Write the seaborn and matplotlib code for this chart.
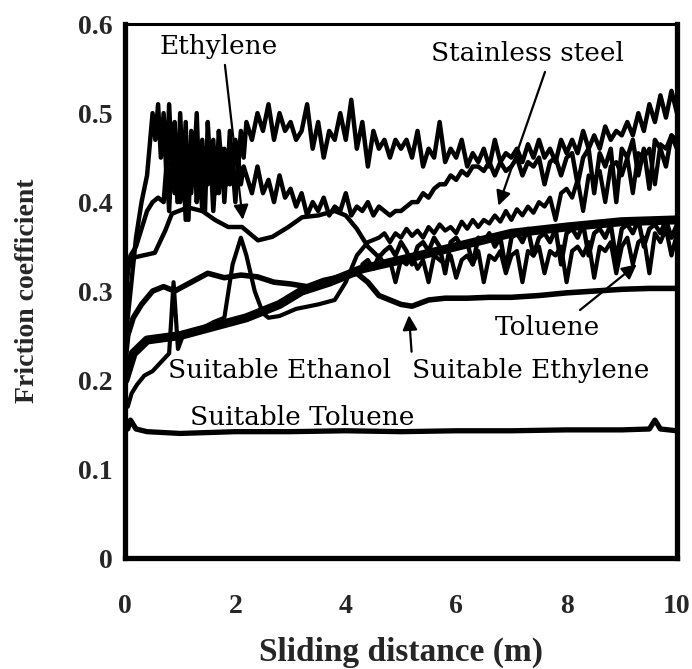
import numpy as np
import pandas as pd
import matplotlib
matplotlib.use("Agg")
import matplotlib.pyplot as plt
import seaborn as sns

sns.set_theme(style="white")
plt.rcParams["font.family"] = ["Liberation Serif", "DejaVu Serif"]

# ---- friction coefficient traces (sliding distance in m) ----
# Ethanol: 0-0.5 m every 0.1 m, 0.55-2.2 m every 0.05 m, 2.3-10 m every 0.1 m
ethanol_y0 = [0.24, 0.30, 0.36, 0.40, 0.43, 0.50]
ethanol_y1 = [
    0.47, 0.51, 0.45, 0.50, 0.43, 0.51, 0.44, 0.49, 0.40, 0.50,
    0.42, 0.49, 0.38, 0.48, 0.44, 0.50, 0.41, 0.47, 0.39, 0.49,
    0.43, 0.47, 0.41, 0.48, 0.44, 0.46, 0.42, 0.48, 0.43, 0.47,
    0.44, 0.48, 0.45, 0.49,
]
ethanol_y2 = [
    0.47, 0.50, 0.48, 0.51, 0.47, 0.50, 0.48, 0.49,
    0.47, 0.48, 0.51, 0.46, 0.49, 0.45, 0.48, 0.47, 0.50, 0.47,
    0.515, 0.46, 0.49, 0.44, 0.48, 0.46, 0.47, 0.45, 0.47, 0.46,
    0.47, 0.45, 0.48, 0.44, 0.46, 0.45, 0.49, 0.445, 0.46, 0.45,
    0.47, 0.44, 0.455, 0.445, 0.46, 0.44, 0.47, 0.445, 0.455, 0.45,
    0.46, 0.445, 0.465, 0.45, 0.47, 0.45, 0.46, 0.445, 0.47, 0.455,
    0.47, 0.455, 0.48, 0.46, 0.475, 0.46, 0.485, 0.47, 0.48, 0.475,
    0.49, 0.475, 0.50, 0.48, 0.51, 0.49, 0.52, 0.495, 0.525, 0.50,
]

# Second noisy trace: 0-0.7 m every 0.1 m, 0.75-2.2 m every 0.05 m, 2.3-10 m every 0.1 m
upper_y0 = [0.30, 0.34, 0.35, 0.37, 0.39, 0.40, 0.405, 0.40]
upper_y1 = [
    0.44, 0.39, 0.46, 0.41, 0.47, 0.40, 0.45, 0.38, 0.46, 0.41,
    0.47, 0.40, 0.44, 0.39, 0.46, 0.42, 0.45, 0.39, 0.44, 0.41,
    0.46, 0.40, 0.45, 0.42, 0.44, 0.40, 0.45, 0.42, 0.44, 0.43,
]
upper_y2 = [
    0.41, 0.44, 0.41, 0.425, 0.40, 0.43, 0.405, 0.415, 0.395, 0.41,
    0.385, 0.40, 0.39, 0.405, 0.385, 0.395, 0.39, 0.41, 0.385, 0.395, 0.39, 0.40, 0.385, 0.395, 0.39, 0.385, 0.39,
    0.39, 0.395, 0.40, 0.40, 0.41, 0.405, 0.415, 0.42, 0.42, 0.43, 0.425, 0.435, 0.43, 0.44, 0.44,
    0.435, 0.445, 0.43, 0.445, 0.435, 0.44, 0.45, 0.43, 0.445, 0.44, 0.45, 0.42, 0.445, 0.45, 0.43, 0.45,
    0.455, 0.42, 0.45, 0.46, 0.41, 0.455, 0.44, 0.46, 0.40, 0.46, 0.45, 0.47, 0.43, 0.46, 0.415, 0.47,
    0.46, 0.44, 0.475, 0.46,
]

# Ethylene: smooth start up to 4.6 m, then every 0.1 m from 4.7 to 10 m
ethylene_x0 = [0.0, 0.05, 0.18, 0.54, 0.73, 0.85, 1.14, 1.40, 1.63, 1.87, 2.12, 2.41, 2.67,
               2.96, 3.21, 3.5, 3.8, 4.0, 4.2, 4.4, 4.6]
ethylene_y0 = [0.25, 0.33, 0.338, 0.343, 0.368, 0.387, 0.394, 0.39, 0.38, 0.372, 0.372, 0.357,
               0.361, 0.372, 0.383, 0.385, 0.39, 0.385, 0.37, 0.35, 0.338]
ethylene_y1 = [
    0.345, 0.35, 0.34, 0.355, 0.345, 0.33, 0.35, 0.355, 0.345, 0.36,
    0.35, 0.32, 0.355, 0.36, 0.35, 0.355, 0.33, 0.36, 0.355, 0.365,
    0.35, 0.36, 0.325, 0.36, 0.365, 0.355, 0.37, 0.34, 0.36, 0.365,
    0.355, 0.37, 0.33, 0.365, 0.37, 0.36, 0.375, 0.34, 0.365, 0.37,
    0.36, 0.375, 0.335, 0.37, 0.375, 0.365, 0.38, 0.35, 0.37, 0.375,
    0.365, 0.38, 0.36, 0.375,
]

# Stainless steel: irregular start up to 4.4 m, then every 0.1 m from 4.6 to 10 m
steel_x0 = [0.05, 0.12, 0.22, 0.35, 0.5, 0.65, 0.8, 0.88, 0.96, 1.05, 1.3, 1.6, 1.8, 1.95, 2.1,
            2.2, 2.35, 2.5, 2.6, 2.8, 3.1, 3.5, 3.8, 4.0, 4.2, 4.4]
steel_y0 = [0.17, 0.185, 0.195, 0.205, 0.21, 0.22, 0.23, 0.31, 0.235, 0.25, 0.255, 0.265, 0.27,
            0.33, 0.36, 0.34, 0.30, 0.275, 0.27, 0.272, 0.28, 0.285, 0.29, 0.31, 0.34, 0.355]
steel_y1 = [
    0.36, 0.365, 0.355, 0.365, 0.36, 0.37, 0.362, 0.368, 0.36, 0.372,
    0.365, 0.375, 0.368, 0.372, 0.365, 0.378, 0.37, 0.38, 0.372, 0.38,
    0.376, 0.385, 0.378, 0.39, 0.38, 0.392, 0.385, 0.395, 0.388, 0.40,
    0.395, 0.405, 0.38, 0.41, 0.415, 0.405, 0.425, 0.39, 0.43, 0.425,
    0.435, 0.40, 0.44, 0.445, 0.43, 0.45, 0.41, 0.455, 0.45, 0.46,
    0.42, 0.465, 0.46, 0.475, 0.47,
]

# Toluene: every 0.1 m from 4.3 to 10 m
toluene_y = [
    0.33, 0.335, 0.325, 0.34, 0.33, 0.335, 0.31, 0.335, 0.33, 0.34,
    0.325, 0.335, 0.31, 0.34, 0.335, 0.33, 0.34, 0.315, 0.335, 0.34,
    0.33, 0.345, 0.31, 0.34, 0.335, 0.345, 0.32, 0.34, 0.345, 0.31,
    0.345, 0.34, 0.35, 0.32, 0.345, 0.34, 0.35, 0.31, 0.345, 0.35,
    0.34, 0.355, 0.315, 0.35, 0.345, 0.355, 0.32, 0.35, 0.36, 0.33,
    0.355, 0.36, 0.32, 0.365, 0.355, 0.37, 0.34, 0.365,
]

# Suitable ethanol (thick trace)
s_ethanol_x = [0.0, 0.15, 0.4, 1.0, 1.6, 2.2, 2.8, 3.2, 3.7, 4.3, 5.0, 6.0, 7.0, 8.0, 9.0, 10.0]
s_ethanol_y = [0.20, 0.23, 0.245, 0.25, 0.26, 0.27, 0.285, 0.30, 0.31, 0.325, 0.335, 0.35, 0.365,
               0.372, 0.378, 0.38]

# Suitable ethylene
s_ethylene_x = [0.0, 0.05, 0.15, 0.3, 0.5, 0.7, 0.9, 1.2, 1.5, 1.8, 2.1, 2.4, 2.7, 3.0, 3.3, 3.6,
                3.9, 4.2, 4.4, 4.6, 4.8, 5.0, 5.2, 5.5, 5.8, 6.2, 6.6, 7.0, 7.5, 8.0, 8.5, 9.0,
                9.5, 10.0]
s_ethylene_y = [0.22, 0.25, 0.27, 0.285, 0.30, 0.305, 0.30, 0.31, 0.32, 0.315, 0.318, 0.316, 0.31,
                0.308, 0.305, 0.312, 0.316, 0.32, 0.31, 0.295, 0.29, 0.285, 0.283, 0.29, 0.292,
                0.292, 0.293, 0.293, 0.295, 0.298, 0.30, 0.302, 0.303, 0.303]

# Suitable toluene
s_toluene_x = [0.0, 0.05, 0.1, 0.2, 0.4, 1.0, 2.0, 3.0, 4.0, 5.0, 6.0, 7.0, 8.0, 9.0, 9.5, 9.6, 9.7, 10.0]
s_toluene_y = [0.15, 0.145, 0.155, 0.145, 0.142, 0.14, 0.142, 0.142, 0.143, 0.142, 0.143, 0.143,
               0.144, 0.144, 0.145, 0.155, 0.145, 0.143]

y_ticks = [0, 0.1, 0.2, 0.3, 0.4, 0.5, 0.6]
y_tick_labels = ["0", "0.1", "0.2", "0.3", "0.4", "0.5", "0.6"]
x_ticks = [0, 2, 4, 6, 8, 10]
x_tick_labels = ["0", "2", "4", "6", "8", "10"]


def grid(start, stop, values):
    return np.linspace(start, stop, len(values))


traces = [
    (np.concatenate([grid(0, 0.5, ethanol_y0), grid(0.55, 2.2, ethanol_y1), grid(2.3, 10, ethanol_y2)]),
     ethanol_y0 + ethanol_y1 + ethanol_y2, 3.2),
    (np.concatenate([grid(0, 0.7, upper_y0), grid(0.75, 2.2, upper_y1), grid(2.3, 10, upper_y2)]),
     upper_y0 + upper_y1 + upper_y2, 3.2),
    (np.concatenate([ethylene_x0, grid(4.7, 10, ethylene_y1)]), ethylene_y0 + ethylene_y1, 3.2),
    (np.concatenate([steel_x0, grid(4.6, 10, steel_y1)]), steel_y0 + steel_y1, 3.0),
    (grid(4.3, 10, toluene_y), toluene_y, 3.0),
    (s_ethanol_x, s_ethanol_y, 6.5),
    (s_ethylene_x, s_ethylene_y, 4.0),
    (s_toluene_x, s_toluene_y, 3.8),
]

fig = plt.figure(figsize=(6.92, 6.69), dpi=100)
ax = fig.add_axes([0.1806, 0.1659, 0.7977, 0.798])

for xs, ys, lw in traces:
    df = pd.DataFrame({"x": xs, "y": ys})
    sns.lineplot(data=df, x="x", y="y", ax=ax, color="black", linewidth=lw,
                 estimator=None, sort=False, legend=False)

ax.set_xlim(0, 10)
ax.set_ylim(0, 0.6)
ax.set_xticks(x_ticks)
ax.set_xticklabels(x_tick_labels)
ax.set_yticks(y_ticks)
ax.set_yticklabels(y_tick_labels)
ax.tick_params(axis="y", direction="in", length=6, width=2, labelsize=20, pad=9)
ax.tick_params(axis="x", direction="in", length=0, labelsize=20, pad=26)
for lab in ax.get_xticklabels() + ax.get_yticklabels():
    lab.set_fontweight("bold")

for side in ["left", "bottom", "right"]:
    ax.spines[side].set_linewidth(3.8)
ax.spines["top"].set_linewidth(2.2)
for sp in ax.spines.values():
    sp.set_color("black")

ax.set_xlabel("Sliding distance (m)", fontsize=24, fontweight="bold", labelpad=13)
ax.set_ylabel("Friction coefficient", fontsize=20, fontweight="bold", labelpad=27)

ann = dict(fontsize=19, color="black", family="DejaVu Serif")
arrow = dict(arrowstyle="-|>", color="black", lw=1.6, mutation_scale=22)
ax.annotate("Ethylene", xy=(2.14, 0.377), xytext=(0.62, 0.575), ha="left", va="center",
            arrowprops=dict(arrow, relpos=(0.55, 0.0)), **ann)
ax.annotate("Stainless steel", xy=(6.75, 0.393), xytext=(5.55, 0.567), ha="left", va="center",
            arrowprops=dict(arrow, relpos=(0.6, 0.0)), **ann)
ax.annotate("Toluene", xy=(9.31, 0.332), xytext=(6.7, 0.259), ha="left", va="center",
            arrowprops=dict(arrow, relpos=(0.75, 1.0)), **ann)
ax.annotate("Suitable Ethylene", xy=(5.14, 0.276), xytext=(5.2, 0.211), ha="left", va="center",
            arrowprops=dict(arrow, relpos=(0.0, 1.0)), **ann)
ax.text(0.78, 0.211, "Suitable Ethanol", ha="left", va="center", **ann)
ax.text(1.18, 0.158, "Suitable Toluene", ha="left", va="center", **ann)

fig.savefig("out.png", dpi=100)
